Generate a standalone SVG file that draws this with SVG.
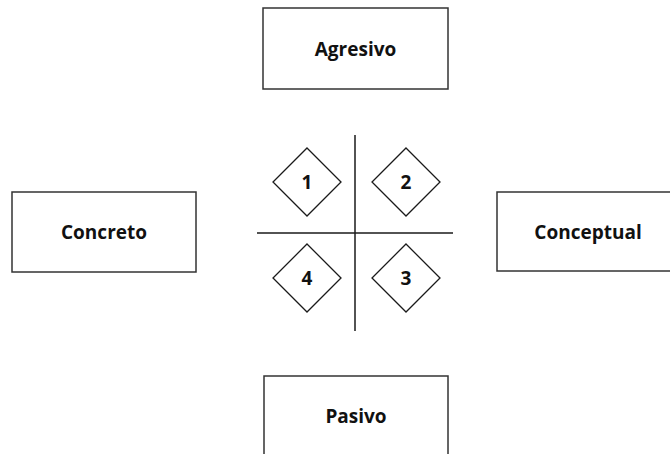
<svg xmlns="http://www.w3.org/2000/svg" width="670" height="454" viewBox="0 0 670 454">
<style>
.box{fill:#fff;stroke:#333;stroke-width:1.5}
.dia{fill:#fff;stroke:#1a1a1a;stroke-width:1.3}
.lbl{font-family:"Open Sans","Liberation Sans",sans-serif;font-weight:bold;font-size:19px;fill:#111;text-anchor:middle}
.num{font-family:"Open Sans","Liberation Sans",sans-serif;font-weight:bold;font-size:19px;fill:#111;text-anchor:middle}
.axis{stroke:#1a1a1a;stroke-width:1.5}
</style>
<rect width="670" height="454" fill="#fff"/>
<g id="agresivo"><rect class="box" x="263" y="8" width="185" height="81"/><text class="lbl" x="355.5" y="56">Agresivo</text></g>
<g id="concreto"><rect class="box" x="12" y="192" width="184" height="80"/><text class="lbl" x="104" y="239">Concreto</text></g>
<g id="conceptual"><rect class="box" x="497" y="192" width="185" height="79"/><text class="lbl" x="588" y="239">Conceptual</text></g>
<g id="pasivo"><rect class="box" x="264" y="376" width="184" height="90"/><text class="lbl" x="356" y="423">Pasivo</text></g>
<g id="axes">
<line class="axis" x1="355" y1="135" x2="355" y2="331"/>
<line class="axis" x1="257" y1="233" x2="453" y2="233"/>
</g>
<g id="q1"><polygon class="dia" points="307,148 341,182 307,216 273,182"/><text class="num" x="307" y="189">1</text></g>
<g id="q2"><polygon class="dia" points="406,148 440,182 406,216 372,182"/><text class="num" x="406" y="189">2</text></g>
<g id="q4"><polygon class="dia" points="307,244 341,278 307,312 273,278"/><text class="num" x="307" y="285">4</text></g>
<g id="q3"><polygon class="dia" points="406,244 440,278 406,312 372,278"/><text class="num" x="406" y="285">3</text></g>
</svg>
